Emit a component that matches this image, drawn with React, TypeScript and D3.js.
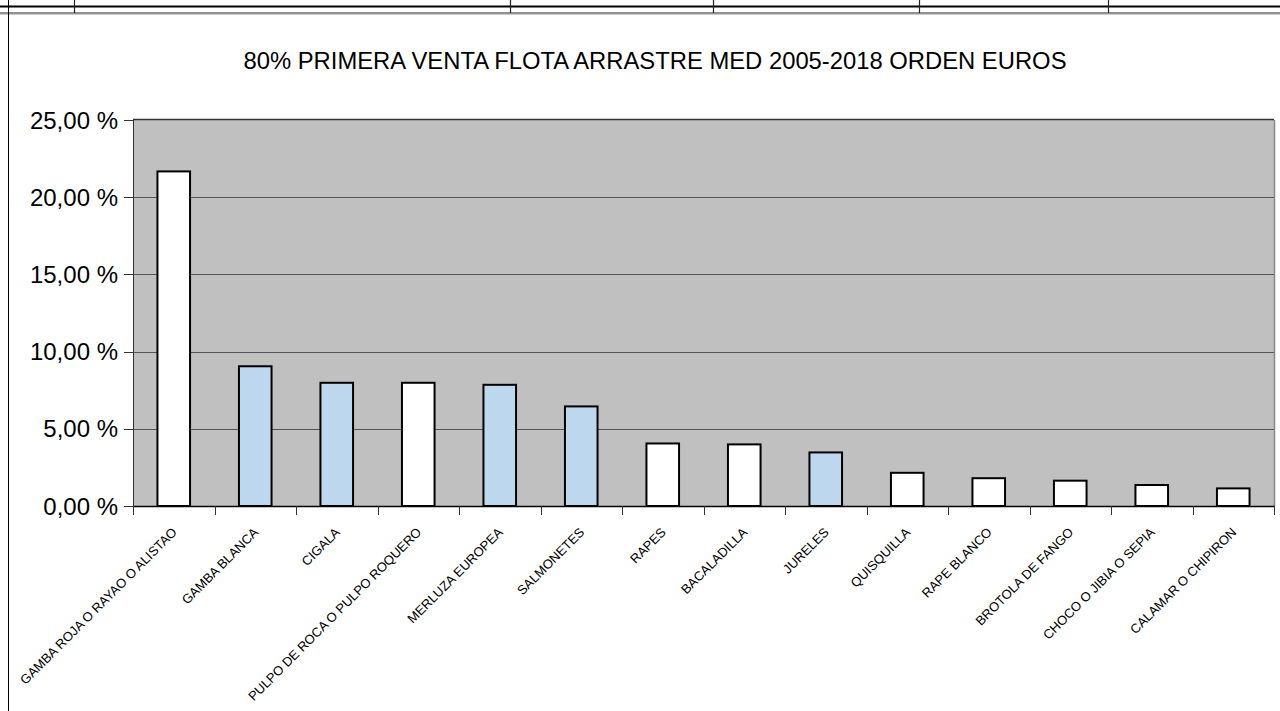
import React, { useEffect, useRef } from 'react';
import * as d3 from 'd3';

const species = [
  'GAMBA ROJA O RAYAO O ALISTAO',
  'GAMBA BLANCA',
  'CIGALA',
  'PULPO DE ROCA O PULPO ROQUERO',
  'MERLUZA EUROPEA',
  'SALMONETES',
  'RAPES',
  'BACALADILLA',
  'JURELES',
  'QUISQUILLA',
  'RAPE BLANCO',
  'BROTOLA DE FANGO',
  'CHOCO O JIBIA O SEPIA',
  'CALAMAR O CHIPIRON',
];

// share of first-sale value, %
const shares = [21.67, 9.05, 7.98, 7.98, 7.85, 6.45, 4.05, 3.99, 3.47, 2.15, 1.8, 1.64, 1.36, 1.14];

// bars drawn in light blue
const highlighted = ['GAMBA BLANCA', 'CIGALA', 'MERLUZA EUROPEA', 'SALMONETES', 'JURELES'];

const yTicks = [0, 5, 10, 15, 20, 25];

const title = '80% PRIMERA VENTA FLOTA ARRASTRE MED 2005-2018 ORDEN EUROS';

// column dividers of the sheet row above the chart
const sheetColumns = [74, 510, 713, 919, 1108];

const W = 1280;
const H = 711;
const FONT = "'Liberation Sans', Arial, sans-serif";

const App: React.FC = () => {
  const svgRef = useRef<SVGSVGElement>(null);

  useEffect(() => {
    const svg = d3.select(svgRef.current);
    svg.selectAll('*').remove();

    const plot = { left: 133, right: 1274, top: 120, bottom: 506 };

    // spreadsheet remnants at the top
    svg.append('line')
      .attr('x1', 0).attr('x2', W).attr('y1', 6.5).attr('y2', 6.5)
      .attr('stroke', '#000').attr('stroke-width', 2);
    svg.append('line')
      .attr('x1', 0).attr('x2', W).attr('y1', 13).attr('y2', 13)
      .attr('stroke', '#222').attr('stroke-width', 1);
    svg.append('line')
      .attr('x1', 0).attr('x2', W).attr('y1', 14.5).attr('y2', 14.5)
      .attr('stroke', '#ccc').attr('stroke-width', 1);
    svg.selectAll('.col')
      .data(sheetColumns)
      .enter().append('line')
      .attr('x1', d => d + 0.5).attr('x2', d => d + 0.5)
      .attr('y1', 0).attr('y2', 13)
      .attr('stroke', '#222').attr('stroke-width', 1.2);
    svg.append('line')
      .attr('x1', 8.5).attr('x2', 8.5).attr('y1', 0).attr('y2', H)
      .attr('stroke', '#000').attr('stroke-width', 1);

    // title
    svg.append('text')
      .attr('x', 655)
      .attr('y', 69)
      .attr('text-anchor', 'middle')
      .attr('font-family', FONT)
      .attr('font-size', 23.8)
      .attr('fill', '#000')
      .text(title);

    const x = d3.scaleBand<string>()
      .domain(species)
      .range([plot.left, plot.right])
      .paddingInner(0.6)
      .paddingOuter(0.3);

    const xTickScale = d3.scaleBand<string>()
      .domain(species)
      .range([plot.left, plot.right]);

    const y = d3.scaleLinear()
      .domain([0, 25])
      .range([plot.bottom, plot.top]);

    // plot background
    svg.append('rect')
      .attr('x', plot.left)
      .attr('y', plot.top)
      .attr('width', plot.right - plot.left)
      .attr('height', plot.bottom - plot.top)
      .attr('fill', '#c0c0c0');

    // gridlines
    svg.selectAll('.grid')
      .data(yTicks.filter(t => t > 0 && t < 25))
      .enter().append('line')
      .attr('x1', plot.left).attr('x2', plot.right)
      .attr('y1', d => Math.round(y(d)) + 0.5).attr('y2', d => Math.round(y(d)) + 0.5)
      .attr('stroke', '#555').attr('stroke-width', 1);

    // top/right border of plot area
    svg.append('line')
      .attr('x1', plot.left).attr('x2', plot.right)
      .attr('y1', plot.top - 0.5).attr('y2', plot.top - 0.5)
      .attr('stroke', '#333').attr('stroke-width', 1.3);
    svg.append('line')
      .attr('x1', plot.right + 0.5).attr('x2', plot.right + 0.5)
      .attr('y1', plot.top).attr('y2', plot.bottom)
      .attr('stroke', '#888').attr('stroke-width', 1.5);

    // bars
    svg.selectAll('.bar')
      .data(species)
      .enter().append('rect')
      .attr('x', d => x(d)!)
      .attr('y', (_d, i) => y(shares[i]))
      .attr('width', x.bandwidth())
      .attr('height', (_d, i) => plot.bottom - y(shares[i]))
      .attr('fill', d => (highlighted.includes(d) ? '#bdd7ee' : '#ffffff'))
      .attr('stroke', '#000')
      .attr('stroke-width', 2);

    // y axis
    svg.append('line')
      .attr('x1', plot.left + 0.5).attr('x2', plot.left + 0.5)
      .attr('y1', plot.top).attr('y2', plot.bottom)
      .attr('stroke', '#333').attr('stroke-width', 1);
    svg.selectAll('.ytick')
      .data(yTicks)
      .enter().append('line')
      .attr('x1', plot.left - 9).attr('x2', plot.left)
      .attr('y1', d => Math.round(y(d)) + 0.5).attr('y2', d => Math.round(y(d)) + 0.5)
      .attr('stroke', '#333').attr('stroke-width', 1);
    svg.selectAll('.ylabel')
      .data(yTicks)
      .enter().append('text')
      .attr('x', plot.left - 15)
      .attr('y', d => y(d) + 8.5)
      .attr('text-anchor', 'end')
      .attr('font-family', FONT)
      .attr('font-size', 24)
      .attr('fill', '#000')
      .text(d => d.toFixed(2).replace('.', ',') + ' %');

    // x axis
    svg.append('line')
      .attr('x1', plot.left).attr('x2', plot.right + 1)
      .attr('y1', plot.bottom + 0.5).attr('y2', plot.bottom + 0.5)
      .attr('stroke', '#000').attr('stroke-width', 1.5);
    const boundaries = species.map(s => xTickScale(s)!).concat([plot.right]);
    svg.selectAll('.xtick')
      .data(boundaries)
      .enter().append('line')
      .attr('x1', d => Math.round(d) + 0.5).attr('x2', d => Math.round(d) + 0.5)
      .attr('y1', plot.bottom).attr('y2', plot.bottom + 9)
      .attr('stroke', '#333').attr('stroke-width', 1);

    svg.selectAll('.xlabel')
      .data(species)
      .enter().append('text')
      .attr('transform', d => {
        const cx = xTickScale(d)! + xTickScale.bandwidth() / 2 + 4;
        return `translate(${cx},${plot.bottom + 27}) rotate(-45)`;
      })
      .attr('text-anchor', 'end')
      .attr('font-family', FONT)
      .attr('font-size', 13)
      .attr('fill', '#000')
      .text(d => d);
  }, []);

  return (
    <div style={{ position: 'absolute', left: 0, top: 0, width: W, height: H, background: '#fff' }}>
      <svg ref={svgRef} width={W} height={H} style={{ display: 'block' }}></svg>
    </div>
  );
};

export default App;
